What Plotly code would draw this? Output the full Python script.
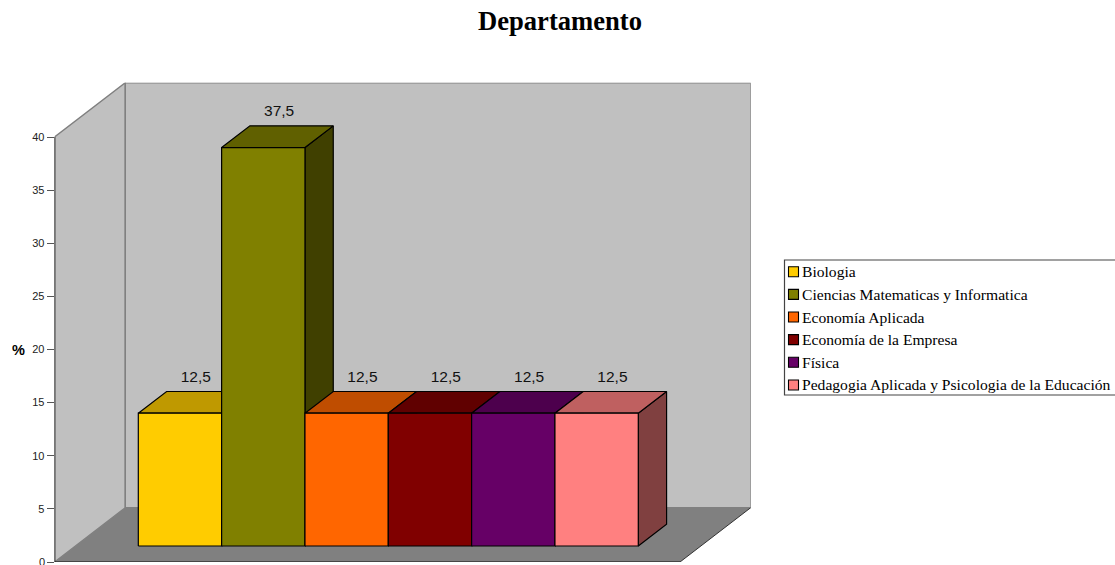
import plotly.graph_objects as go

# ---- data ----
categories = ["Biologia", "Ciencias Matematicas y Informatica", "Economía Aplicada",
              "Economía de la Empresa", "Física", "Pedagogia Aplicada y Psicologia de la Educación"]
values = [12.5, 37.5, 12.5, 12.5, 12.5, 12.5]
front_colors = ["#FFCC00", "#808000", "#FF6600", "#800000", "#660066", "#FF8080"]
top_colors = ["#BF9900", "#606000", "#BF4D00", "#600000", "#4D004D", "#BF6060"]
side_colors = ["#806600", "#404000", "#803300", "#400000", "#330033", "#804040"]
y_ticks = [0, 5, 10, 15, 20, 25, 30, 35, 40]
y_tick_labels = ["0", "5", "10", "15", "20", "25", "30", "35", "40"]
title_text = "Departamento"
y_title = "%"

# ---- layout constants (pixels of the 1115x565 page) ----
W, H = 1115, 565
PL, PR, PT, PB = 54.6, 750.7, 82.7, 562.0      # plot box
BAR_W = 83.33                                   # px per category
PX_PER_VAL = 10.625
X0 = 138.3                                      # left of the first bar

x_lo = (PL - X0) / BAR_W
x_hi = (PR - X0) / BAR_W
y_hi = (PB - PT) / PX_PER_VAL
wall_dx = 70.7 / BAR_W
wall_dy = 54.3 / PX_PER_VAL
bar_dx = 28.3 / BAR_W
bar_dy = 21.7 / PX_PER_VAL
base = (PB - 546.0) / PX_PER_VAL
label_gap = 6.0 / PX_PER_VAL

fig = go.Figure()
EDGE = dict(color="#000000", width=1.2)


def poly(xs, ys, color, name, line=EDGE):
    fig.add_trace(go.Scatter(x=xs + xs[:1], y=ys + ys[:1], mode="lines", fill="toself",
                             fillcolor=color, line=line, name=name,
                             showlegend=False, hoverinfo="name"))


for i, v in enumerate(values):
    top = base + v
    left, right = float(i), float(i + 1)
    poly([right, right + bar_dx, right + bar_dx, right],
         [base, base + bar_dy, top + bar_dy, top], side_colors[i], categories[i])
    poly([left, left + bar_dx, right + bar_dx, right],
         [top, top + bar_dy, top + bar_dy, top], top_colors[i], categories[i])
    poly([left, right, right, left], [base, base, top, top], front_colors[i], categories[i])

fig.add_trace(go.Scatter(
    x=[i + 0.5 + bar_dx / 2 + 0.02 for i in range(len(values))],
    y=[base + v + bar_dy + label_gap for v in values],
    mode="text", text=[str(v).replace(".", ",") for v in values],
    textposition="top center", textfont=dict(family="Liberation Sans", size=15.5, color="#111111"),
    showlegend=False, hoverinfo="skip", cliponaxis=False))

WALL = "#C0C0C0"
WALL_EDGE = dict(color="#808080", width=1.4)
shapes = [
    # left wall
    dict(type="path", layer="below", xref="x", yref="y", fillcolor=WALL, line=WALL_EDGE,
         path=f"M{x_lo},0 L{x_lo + wall_dx},{wall_dy} L{x_lo + wall_dx},{y_hi} L{x_lo},40 Z"),
    # back wall
    dict(type="path", layer="below", xref="x", yref="y", fillcolor=WALL, line=WALL_EDGE,
         path=f"M{x_lo + wall_dx},{wall_dy} L{x_hi},{wall_dy} L{x_hi},{y_hi} L{x_lo + wall_dx},{y_hi} Z"),
    # floor
    dict(type="path", layer="below", xref="x", yref="y", fillcolor="#808080", line=dict(width=0),
         path=f"M{x_lo},0 L{x_hi - wall_dx},0 L{x_hi},{wall_dy} L{x_lo + wall_dx},{wall_dy} Z"),
    # floor right edge
    dict(type="line", layer="below", xref="x", yref="y", x0=x_hi - wall_dx, y0=0, x1=x_hi, y1=wall_dy,
         line=dict(color="#333333", width=1)),
    # axis lines
    dict(type="line", xref="x", yref="y", x0=x_lo, y0=0, x1=x_hi - wall_dx, y1=0,
         line=dict(color="#333333", width=1.6)),
    dict(type="line", xref="x", yref="y", x0=x_lo, y0=0, x1=x_lo, y1=40,
         line=dict(color="#000000", width=1.3)),
    # legend frame (runs off the right edge)
    dict(type="rect", xref="paper", yref="paper", x0=784.5 / W, x1=1120 / W,
         y0=1 - 395 / H, y1=1 - 260 / H, fillcolor="white", line=dict(color="#444444", width=1.2)),
]

annotations = [
    dict(text=f"<b>{title_text}</b>", x=560 / W, y=1 - 21 / H, xref="paper", yref="paper",
         showarrow=False, xanchor="center", yanchor="middle",
         font=dict(family="Liberation Serif", size=26.6, color="#000000")),
    dict(text=f"<b>{y_title}</b>", x=18.5 / W, y=1 - 350 / H, xref="paper", yref="paper",
         showarrow=False, xanchor="center", yanchor="middle",
         font=dict(family="Liberation Sans", size=14.5, color="#000000")),
    # the bottom tick label sits on the page edge and is cut by it
    dict(text=y_tick_labels[0], x=45.5 / W, y=1 - 562 / H, xref="paper", yref="paper",
         showarrow=False, xanchor="right", yanchor="middle", borderpad=0,
         font=dict(family="Liberation Sans", size=11, color="#222222")),
]

row0, row_step = 271.7, 22.65
for i, c in enumerate(categories):
    yc = row0 + i * row_step
    shapes.append(dict(type="rect", xref="paper", yref="paper", x0=788.5 / W, x1=798.5 / W,
                       y0=1 - (yc + 5) / H, y1=1 - (yc - 5) / H, fillcolor=front_colors[i],
                       line=dict(color="#000000", width=1.1)))
    annotations.append(dict(text=c, x=800 / W, y=1 - yc / H, xref="paper", yref="paper",
                            showarrow=False, xanchor="left", yanchor="middle",
                            font=dict(family="Liberation Serif", size=15.6, color="#000000")))

fig.update_layout(
    width=W, height=H, margin=dict(l=0, r=0, t=0, b=0, autoexpand=False),
    paper_bgcolor="white", plot_bgcolor="rgba(0,0,0,0)", showlegend=False,
    shapes=shapes, annotations=annotations,
    xaxis=dict(domain=[PL / W, PR / W], range=[x_lo, x_hi], visible=False, fixedrange=True),
    yaxis=dict(domain=[1 - PB / H, 1 - PT / H], range=[0, y_hi], tickmode="array",
               tickvals=y_ticks, ticktext=[""] + y_tick_labels[1:], ticks="outside", ticklen=7,
               tickwidth=1, tickcolor="#555555", showgrid=False, zeroline=False, showline=False,
               tickfont=dict(family="Liberation Sans", size=11, color="#222222"), fixedrange=True),
)

fig.write_html("out.html", config={"displayModeBar": False},
               post_script="document.body.style.margin='0';")
